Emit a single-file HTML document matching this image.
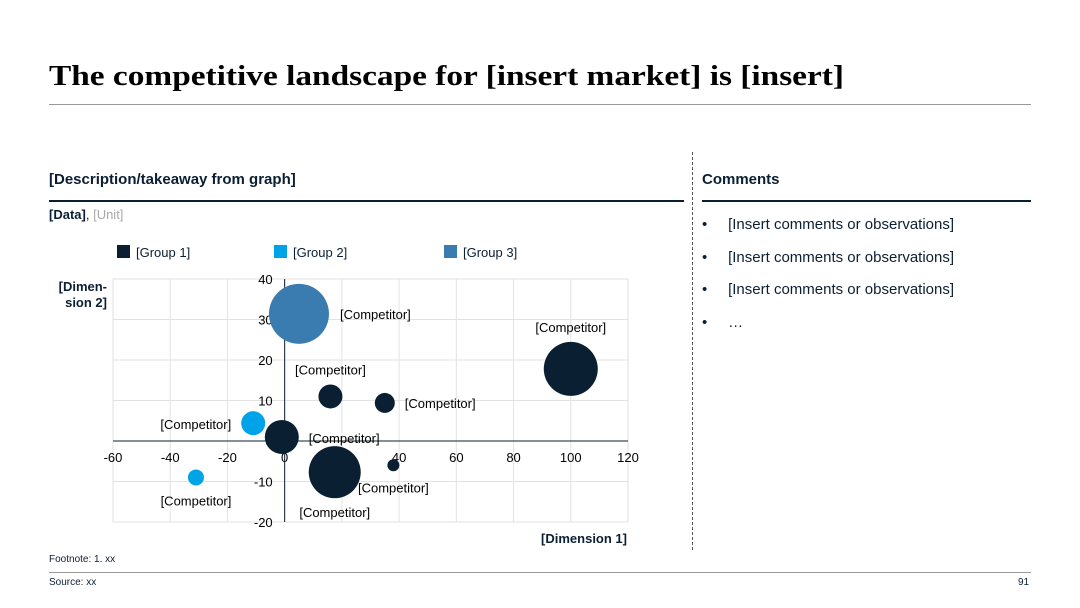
<!DOCTYPE html>
<html><head><meta charset="utf-8"><style>
body{margin:0;width:1080px;height:608px;background:#fff;font-family:"Liberation Sans",sans-serif;color:#0b1f33;position:relative;overflow:hidden}
.a{position:absolute;white-space:nowrap}
</style></head><body>
<div class="a" style="left:49px;top:60px;font:bold 29px 'Liberation Serif',serif;color:#000;transform:scaleX(1.15);transform-origin:0 0">The competitive landscape for [insert market] is [insert]</div>
<div class="a" style="left:49px;top:104px;width:982px;height:1px;background:#999"></div>
<div class="a" style="left:49px;top:171px;font-weight:bold;font-size:15px">[Description/takeaway from graph]</div>
<div class="a" style="left:49px;top:200px;width:635px;height:2px;background:#0b1f33"></div>
<div class="a" style="left:49px;top:207px;font-size:13px"><b>[Data]</b>, <span style="color:#aaa">[Unit]</span></div>
<div class="a" style="left:692px;top:152px;height:398px;border-left:1px dashed #555"></div>
<div class="a" style="left:702px;top:171px;font-weight:bold;font-size:15px">Comments</div>
<div class="a" style="left:702px;top:200px;width:329px;height:2px;background:#0b1f33"></div>
<div style="position:absolute;left:702px;top:209px;font-size:15px;line-height:32.5px">
<div>•&nbsp;&nbsp;&nbsp;&nbsp;&nbsp;[Insert comments or observations]</div>
<div>•&nbsp;&nbsp;&nbsp;&nbsp;&nbsp;[Insert comments or observations]</div>
<div>•&nbsp;&nbsp;&nbsp;&nbsp;&nbsp;[Insert comments or observations]</div>
<div>•&nbsp;&nbsp;&nbsp;&nbsp;&nbsp;…</div>
</div>
<div class="a" style="left:49px;top:554px;font-size:10px">Footnote: 1. xx</div>
<div class="a" style="left:49px;top:572px;width:982px;height:1px;background:#999"></div>
<div class="a" style="left:49px;top:577px;font-size:10px">Source: xx</div>
<div class="a" style="left:1018px;top:577px;font-size:10px">91</div>
<svg id="c" width="1080" height="608" style="position:absolute;left:0;top:0" font-family="Liberation Sans, sans-serif" font-size="13"></svg>
<script>
const groups=["[Group 1]","[Group 2]","[Group 3]"];
const xTicks=[-60,-40,-20,0,20,40,60,80,100,120];
const yTicks=[-20,-10,0,10,20,30,40];
const xs=[5,100,16,35,-1,17.5,38,-11,-31];
const ys=[31.4,17.8,11,9.4,1,-7.7,-6,4.4,-9];
const radii=[30,27,12,10,17,26,6,12,8];
const grp=[2,0,0,0,0,0,0,1,1];
const labels=["[Competitor]","[Competitor]","[Competitor]","[Competitor]","[Competitor]","[Competitor]","[Competitor]","[Competitor]","[Competitor]"];
const labelOffsets=[[41,0,'start'],[0,-42,'middle'],[0,-27,'middle'],[20,0,'start'],[27,1,'start'],[0,40,'middle'],[0,22,'middle'],[-22,1,'end'],[0,23,'middle']];
const colors=["#0b1f33","#00a3e8","#3a7bb0"];
const svg=document.getElementById('c'),NS='http://www.w3.org/2000/svg';
const L=113,R=628,T=279,B=522;
const X=v=>L+(v-xTicks[0])/(xTicks[xTicks.length-1]-xTicks[0])*(R-L);
const Y=v=>B-(v-yTicks[0])/(yTicks[yTicks.length-1]-yTicks[0])*(B-T);
function mk(t,a,txt){const e=document.createElementNS(NS,t);for(const k in a)e.setAttribute(k,a[k]);if(txt!=null)e.textContent=txt;svg.appendChild(e);return e;}
xTicks.forEach(v=>{const e=mk('line',{x1:X(v),x2:X(v),y1:T,y2:B,stroke:'#e2e2e2'});


const t=mk('text',{x:X(v),y:Y(0)+21,'text-anchor':'middle',fill:'#000'},v);

});
yTicks.forEach(v=>{const e=mk('line',{x1:L,x2:R,y1:Y(v),y2:Y(v),stroke:'#e2e2e2'});


const t=mk('text',{x:X(0)-12,y:Y(v)+5,'text-anchor':'end',fill:'#000'},v);

});
let ax=mk('line',{x1:L,x2:R,y1:Y(0),y2:Y(0),stroke:'#0b1f33'});


ax=mk('line',{x1:X(0),x2:X(0),y1:T,y2:B,stroke:'#0b1f33'});


xs.forEach((v,i)=>{const cx=X(v),cy=Y(ys[i]);
const c=mk('circle',{cx:cx,cy:cy,r:radii[i],fill:colors[grp[i]]});


const o=labelOffsets[i];
const t=mk('text',{x:cx+o[0],y:cy+o[1]+5,'text-anchor':o[2],fill:'#000'},labels[i]);

});
const legendX=[117,274,444];
groups.forEach((g,i)=>{const lx=legendX[i];
const r=mk('rect',{x:lx,y:245,width:13,height:13,fill:colors[i]});


const t=mk('text',{x:lx+19,y:257,fill:'#0b1f33'},g);

});
let t=mk('text',{x:107,y:291,'text-anchor':'end','font-weight':'bold',fill:'#0b1f33'},'[Dimen-');


t=mk('text',{x:107,y:307,'text-anchor':'end','font-weight':'bold',fill:'#0b1f33'},'sion 2]');


t=mk('text',{x:627,y:543,'text-anchor':'end','font-weight':'bold',fill:'#0b1f33'},'[Dimension 1]');


</script>
</body></html>
